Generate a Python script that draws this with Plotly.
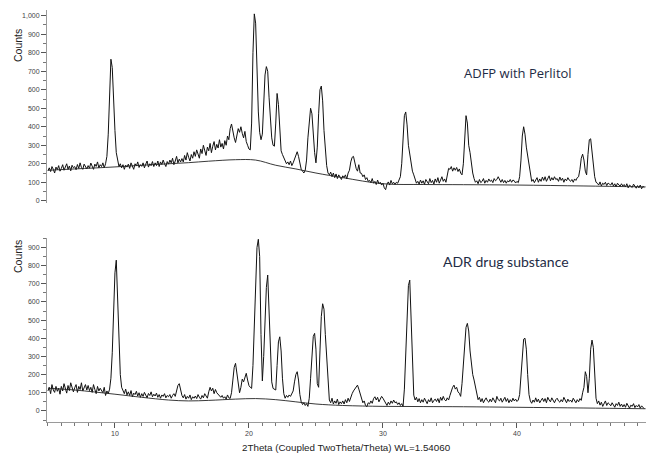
import plotly.graph_objects as go

# 2-theta grid of the digitised patterns (0.1 deg steps, 5.0 .. 49.5)
two_theta = [round(5.0 + 0.1 * i, 1) for i in range(446)]

# ADFP with Perlitol (top pattern), counts read row by row (1 deg per row)
adfp_counts = (
    [162, 178, 158, 185, 170, 150, 182, 168, 190, 160]      # 5
    + [175, 195, 165, 180, 200, 170, 188, 162, 192, 178]    # 6
    + [185, 168, 196, 175, 205, 180, 170, 198, 184, 172]    # 7
    + [190, 176, 204, 182, 170, 198, 186, 210, 178, 195]    # 8
    + [185, 205, 178, 200, 240, 360, 560, 765, 720, 520]    # 9
    + [380, 260, 210, 185, 200, 178, 195, 170, 192, 182]    # 10
    + [198, 175, 205, 185, 170, 200, 188, 210, 180, 195]    # 11
    + [186, 205, 178, 198, 215, 182, 200, 190, 212, 185]    # 12
    + [205, 190, 215, 185, 210, 196, 220, 200, 185, 212]    # 13
    + [198, 220, 205, 230, 195, 215, 240, 205, 225, 210]    # 14
    + [228, 210, 245, 220, 260, 235, 215, 250, 230, 265]    # 15
    + [240, 275, 250, 230, 280, 255, 300, 265, 245, 290]    # 16
    + [270, 310, 260, 295, 320, 275, 305, 285, 330, 290]    # 17
    + [310, 280, 325, 300, 350, 330, 390, 415, 370, 340]    # 18
    + [315, 355, 390, 370, 400, 365, 340, 375, 320, 300]    # 19
    + [280, 275, 420, 800, 1010, 960, 700, 480, 370, 330]   # 20
    + [360, 500, 680, 725, 700, 560, 420, 340, 300, 295]    # 21
    + [420, 580, 520, 380, 270, 250, 230, 215, 200, 210]    # 22
    + [195, 215, 190, 205, 225, 255, 265, 240, 200, 170]    # 23
    + [160, 150, 165, 220, 340, 450, 500, 470, 360, 260]    # 24
    + [205, 290, 470, 600, 620, 540, 380, 260, 190, 150]    # 25
    + [140, 155, 130, 150, 125, 145, 120, 140, 130, 115]    # 26
    + [135, 125, 140, 118, 150, 165, 210, 235, 240, 200]    # 27
    + [175, 160, 195, 150, 148, 130, 140, 115, 125, 105]    # 28
    + [110, 98, 120, 95, 105, 88, 112, 92, 100, 85]         # 29
    + [95, 70, 60, 90, 102, 85, 110, 92, 100, 88]           # 30
    + [100, 95, 110, 130, 200, 340, 460, 480, 410, 300]     # 31
    + [250, 200, 160, 140, 110, 95, 105, 90, 112, 95]       # 32
    + [108, 88, 115, 100, 92, 120, 98, 110, 90, 118]        # 33
    + [100, 125, 95, 112, 130, 105, 118, 100, 150, 175]     # 34
    + [170, 185, 160, 178, 165, 180, 158, 172, 150, 140]    # 35
    + [200, 360, 460, 420, 300, 260, 200, 150, 120, 100]    # 36
    + [108, 92, 115, 98, 105, 120, 95, 110, 100, 118]       # 37
    + [105, 112, 98, 120, 108, 115, 130, 110, 100, 115]     # 38
    + [98, 110, 95, 108, 102, 115, 100, 112, 108, 96]       # 39
    + [105, 98, 130, 220, 350, 400, 360, 290, 240, 180]     # 40
    + [130, 105, 115, 98, 112, 125, 100, 118, 105, 128]     # 41
    + [110, 130, 105, 120, 135, 108, 125, 112, 130, 115]    # 42
    + [120, 105, 128, 110, 122, 100, 118, 108, 125, 112]    # 43
    + [105, 115, 100, 118, 110, 125, 130, 170, 230, 252]    # 44
    + [220, 160, 140, 250, 330, 335, 270, 180, 130, 100]    # 45
    + [95, 85, 102, 80, 95, 88, 100, 82, 96, 90]            # 46
    + [85, 98, 80, 92, 75, 95, 85, 78, 92, 80]              # 47
    + [88, 75, 92, 70, 85, 80, 72, 90, 78, 68]              # 48
    + [82, 70, 85, 65, 78, 72]                              # 49
)

# ADR drug substance (bottom pattern)
adr_counts = (
    [110, 130, 95, 145, 115, 102, 135, 108, 125, 92]        # 5
    + [135, 110, 150, 120, 98, 140, 112, 155, 122, 105]     # 6
    + [128, 145, 102, 135, 118, 155, 110, 132, 145, 115]    # 7
    + [140, 112, 130, 102, 145, 118, 95, 135, 110, 125]     # 8
    + [115, 100, 130, 85, 110, 95, 120, 180, 320, 520]      # 9
    + [760, 830, 640, 380, 200, 130, 110, 95, 120, 88]      # 10
    + [105, 85, 112, 78, 98, 90, 108, 82, 100, 75]          # 11
    + [95, 80, 102, 88, 72, 96, 85, 105, 78, 92]            # 12
    + [82, 98, 75, 90, 70, 88, 80, 95, 72, 85]              # 13
    + [78, 90, 70, 85, 95, 80, 110, 140, 150, 115]          # 14
    + [85, 72, 90, 65, 80, 70, 88, 62, 78, 70]              # 15
    + [82, 68, 90, 75, 65, 85, 72, 95, 80, 70]              # 16
    + [105, 130, 110, 125, 95, 118, 100, 90, 80, 75]        # 17
    + [85, 70, 78, 65, 88, 72, 69, 100, 170, 240]           # 18
    + [262, 210, 140, 100, 130, 175, 160, 190, 207, 170]    # 19
    + [140, 130, 124, 250, 500, 760, 900, 945, 850, 420]    # 20
    + [165, 300, 520, 680, 748, 560, 330, 160, 124, 118]    # 21
    + [115, 250, 380, 408, 330, 180, 95, 70, 85, 75]        # 22
    + [88, 80, 92, 110, 160, 200, 216, 170, 90, 50]         # 23
    + [35, 45, 30, 40, 25, 70, 180, 320, 410, 427]          # 24
    + [340, 150, 130, 330, 520, 590, 560, 420, 300, 140]    # 25
    + [60, 45, 70, 38, 55, 42, 65, 35, 50, 40]              # 26
    + [55, 38, 62, 45, 70, 52, 80, 95, 110, 120]            # 27
    + [135, 142, 120, 90, 65, 45, 55, 30, 23, 45]           # 28
    + [38, 55, 42, 68, 78, 60, 75, 50, 65, 80]              # 29
    + [70, 55, 40, 30, 48, 35, 55, 42, 60, 45]              # 30
    + [50, 35, 45, 30, 40, 25, 120, 300, 520, 690]          # 31
    + [720, 500, 200, 87, 60, 75, 50, 68, 45, 62]           # 32
    + [48, 70, 55, 40, 62, 50, 72, 45, 58, 65]              # 33
    + [52, 68, 45, 75, 58, 80, 62, 55, 72, 60]              # 34
    + [85, 110, 130, 142, 120, 130, 105, 97, 80, 150]       # 35
    + [250, 380, 460, 482, 440, 330, 250, 200, 170, 130]    # 36
    + [90, 62, 75, 50, 68, 45, 60, 72, 55, 48]              # 37
    + [65, 50, 72, 58, 45, 80, 62, 55, 70, 48]              # 38
    + [60, 75, 52, 68, 45, 62, 50, 70, 55, 65]              # 39
    + [52, 60, 90, 200, 330, 395, 400, 340, 200, 90]        # 40
    + [55, 42, 60, 48, 72, 50, 65, 45, 58, 70]              # 41
    + [52, 68, 45, 75, 60, 50, 72, 58, 45, 62]              # 42
    + [70, 55, 48, 62, 50, 75, 58, 45, 65, 52]              # 43
    + [60, 48, 70, 55, 45, 62, 50, 68, 58, 100]             # 44
    + [130, 216, 190, 100, 180, 340, 390, 350, 200, 70]     # 45
    + [40, 55, 32, 48, 25, 42, 55, 30, 45, 38]              # 46
    + [28, 45, 35, 20, 40, 30, 48, 25, 38, 22]              # 47
    + [35, 20, 42, 28, 15, 32, 25, 40, 18, 30]              # 48
    + [22, 35, 15, 28, 20, 12]                              # 49
)

# fitted background curves
bg_theta = [5, 7, 10, 12, 14, 15.5, 17, 19, 20.5, 22, 23.5, 25, 27, 30, 33, 36, 40, 45, 49.6]
adfp_background = [165, 172, 183, 192, 200, 206, 214, 222, 220, 192, 172, 150, 125, 92, 88, 87, 85, 80, 75]
adr_background = [125, 115, 92, 75, 60, 55, 58, 65, 68, 62, 50, 38, 30, 25, 24, 23, 20, 16, 12]

y_ticks = [0, 100, 200, 300, 400, 500, 600, 700, 800, 900, 1000]
x_ticks = [10, 20, 30, 40, 50]

W, H = 646, 453
x_dom = [47 / W, 1.0]
top_dom = [1 - 203 / H, 1 - 10 / H]
bot_dom = [1 - 422 / H, 1 - 238 / H]
x_range = [4.93, 49.63]

fig = go.Figure()
line_data = dict(color="#111111", width=1)
line_bg = dict(color="#222222", width=0.9, shape="spline")

fig.add_trace(go.Scatter(x=two_theta, y=adfp_counts, mode="lines", line=line_data,
                         xaxis="x2", yaxis="y2", showlegend=False, hoverinfo="skip"))
fig.add_trace(go.Scatter(x=bg_theta, y=adfp_background, mode="lines", line=line_bg,
                         xaxis="x2", yaxis="y2", showlegend=False, hoverinfo="skip"))
fig.add_trace(go.Scatter(x=two_theta, y=adr_counts, mode="lines", line=line_data,
                         xaxis="x", yaxis="y", showlegend=False, hoverinfo="skip"))
fig.add_trace(go.Scatter(x=bg_theta, y=adr_background, mode="lines", line=line_bg,
                         xaxis="x", yaxis="y", showlegend=False, hoverinfo="skip"))

tick_font = dict(family="Liberation Sans, Arial, sans-serif", size=7, color="#444444")
axis_col = "#9a9a9a"

yaxis_common = dict(
    showline=True, linecolor=axis_col, linewidth=1, ticks="outside", ticklen=5,
    tickcolor="#555555", tickwidth=1, tickfont=tick_font, showgrid=False, zeroline=False,
    tickmode="array", tickvals=y_ticks, tickformat=",", automargin=False,
    minor=dict(ticks="outside", ticklen=3, tickcolor="#777777", dtick=50, tick0=0, showgrid=False),
)

fig.update_layout(
    width=W, height=H,
    margin=dict(l=0, r=0, t=0, b=0),
    paper_bgcolor="white", plot_bgcolor="white",
    xaxis=dict(domain=x_dom, anchor="y", range=x_range, showline=True, linecolor=axis_col,
               linewidth=1, ticks="outside", ticklen=5, tickcolor="#555555",
               tickmode="array", tickvals=x_ticks, tickfont=tick_font, showgrid=False,
               zeroline=False, automargin=False,
               minor=dict(ticks="outside", ticklen=3, tickcolor="#777777", dtick=1, tick0=0,
                          showgrid=False)),
    yaxis=dict(domain=bot_dom, anchor="x", range=[-61, 952], **yaxis_common),
    xaxis2=dict(domain=x_dom, anchor="y2", range=x_range, visible=False),
    yaxis2=dict(domain=top_dom, anchor="x2", range=[-12, 1031], **yaxis_common),
)

ann_font = dict(family="Liberation Sans, Arial, sans-serif", size=10.5, color="#222222")
fig.add_annotation(text="Counts", x=18 / W, y=1 - 46 / H, xref="paper", yref="paper",
                   textangle=-90, showarrow=False, font=ann_font, xanchor="center", yanchor="middle")
fig.add_annotation(text="Counts", x=18 / W, y=1 - 257 / H, xref="paper", yref="paper",
                   textangle=-90, showarrow=False, font=ann_font, xanchor="center", yanchor="middle")
fig.add_annotation(text="2Theta (Coupled TwoTheta/Theta) WL=1.54060", x=346 / W, y=1 - 447 / H,
                   xref="paper", yref="paper", showarrow=False,
                   font=dict(family="Liberation Sans, Arial, sans-serif", size=9.8, color="#222222"),
                   xanchor="center", yanchor="middle")
fig.add_annotation(text="ADFP with Perlitol", x=518 / W, y=1 - 72.5 / H, xref="paper", yref="paper",
                   showarrow=False, xanchor="center", yanchor="middle",
                   font=dict(family="Open Sans, sans-serif", size=13, color="#1e2b45"))
fig.add_annotation(text="ADR drug substance", x=505.5 / W, y=1 - 261 / H, xref="paper", yref="paper",
                   showarrow=False, xanchor="center", yanchor="middle",
                   font=dict(family="Lato, sans-serif", size=14, color="#1e2b45"))

fig.write_html("out.html", config={"displayModeBar": False},
               post_script="document.body.style.margin='0px';")
